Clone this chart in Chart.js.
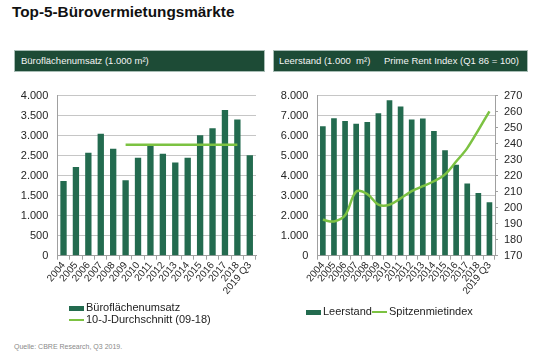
<!DOCTYPE html>
<html>
<head>
<meta charset="utf-8">
<script src="https://cdn.jsdelivr.net/npm/chart.js@4/dist/chart.umd.min.js"></script>
<style>
    body {
        margin: 0;
        width: 535px;
        height: 360px;
        background: #fff;
        font-family: "Liberation Sans", Arial, sans-serif;
        position: relative;
        overflow: hidden;
    }
    #title {
        position: absolute;
        left: 12px;
        top: 3px;
        font-size: 15.3px;
        font-weight: bold;
        color: #111;
    }
    .hdr {
        position: absolute;
        top: 50px;
        height: 22px;
        background: #1d4b36;
        border: 1px solid #a8bdb5;
        box-sizing: border-box;
        color: #f4f4f4;
        font-size: 9.5px;
        line-height: 20px;
    }
    .hdr span { position: absolute; top: 0; white-space: nowrap; }
    canvas { position: absolute; }
    .legend {
        position: absolute;
        font-size: 11px;
        color: #222;
        white-space: nowrap;
    }
    .legend div { position: absolute; height: 12px; line-height: 12px; }
    .sw-bar { display: inline-block; width: 15px; height: 5px; vertical-align: middle; margin-right: 2px; }
    .sw-line { display: inline-block; width: 15px; height: 2px; vertical-align: middle; margin-right: 2px; }
    #source {
        position: absolute;
        left: 14px;
        top: 343px;
        font-size: 7px;
        color: #8a8a8a;
    }
</style>
</head>
<body>
<div id="title">Top-5-Bürovermietungsmärkte</div>
<div class="hdr" style="left:14px;width:251px"><span style="left:6px">Büroflächenumsatz (1.000 m²)</span></div>
<div class="hdr" style="left:273px;width:255px"><span style="left:5px">Leerstand (1.000&nbsp; m²)</span><span style="left:110px">Prime Rent Index (Q1 86 = 100)</span></div>
<canvas id="leftChart" width="265" height="222" style="left:0;top:80px"></canvas>
<canvas id="rightChart" width="265" height="222" style="left:270px;top:80px"></canvas>
<div class="legend" id="leftLegend"></div>
<div class="legend" id="rightLegend"></div>
<div id="source">Quelle: CBRE Research, Q3 2019.</div>
<script>
const years = ["2004", "2005", "2006", "2007", "2008", "2009", "2010", "2011",
    "2012", "2013", "2014", "2015", "2016", "2017", "2018", "2019 Q3"];

// Büroflächenumsatz (1.000 m²)
const umsatz = [1865, 2215, 2570, 3045, 2670, 1888, 2450, 2752,
    2550, 2330, 2450, 3010, 3185, 3640, 3405, 2508];
// 10-J-Durchschnitt (09-18)
const durchschnitt = [null, null, null, null, null, 2770, 2770, 2770,
    2770, 2770, 2770, 2770, 2770, 2770, 2770, null];

// Leerstand (1.000 m²)
const leerstand = [6470, 6865, 6725, 6595, 6675, 7115, 7770, 7460,
    6810, 6855, 6225, 5275, 4545, 3605, 3135, 2665];
// Spitzenmietindex (Q1 86 = 100)
const spitzenmiete = [192.4, 191.4, 195.2, 210.0, 208.5, 201.9, 201.8, 205.8,
    210.3, 213.4, 216.5, 220.8, 228.8, 237.2, 248.5, 260.2];

const umsatzTicks = ["0", "500", "1.000", "1.500", "2.000", "2.500", "3.000", "3.500", "4.000"];
const leerstandTicks = ["0", "1.000", "2.000", "3.000", "4.000", "5.000", "6.000", "7.000", "8.000"];
const indexTicks = ["170", "180", "190", "200", "210", "220", "230", "240", "250", "260", "270"];

const barColor = "#236b4f";
const lineColor = "#7cc242";
const gridColor = "#c6c6c6";
const axisColor = "#a0a0a0";
const tickFont = { family: "'Liberation Sans', Arial, sans-serif", size: 11 };
const xFont = { family: "'Liberation Sans', Arial, sans-serif", size: 10 };

function xAxis() {
    return {
        offset: true,
        grid: { drawOnChartArea: false, drawTicks: true, tickLength: 4, color: axisColor, offset: true },
        border: { color: axisColor },
        ticks: { color: "#262626", font: xFont, minRotation: 50, maxRotation: 50, padding: 0, autoSkip: false },
        afterFit: (s) => { s.height = 46.3; },
    };
}

function yAxis(labels, min, max, step, width) {
    return {
        min: min,
        max: max,
        grid: { color: gridColor, drawTicks: false },
        border: { color: axisColor },
        ticks: {
            stepSize: step,
            autoSkip: false,
            color: "#262626",
            font: tickFont,
            padding: 9,
            callback: (v, i) => labels[i],
        },
        afterFit: (s) => { s.width = width; },
    };
}

const common = {
    responsive: false,
    animation: false,
    devicePixelRatio: 1,
    plugins: { legend: { display: false }, tooltip: { enabled: false } },
};

new Chart(document.getElementById("leftChart"), {
    data: {
        labels: years,
        datasets: [
            {
                type: "line",
                label: "10-J-Durchschnitt (09-18)",
                data: durchschnitt,
                borderColor: lineColor,
                borderWidth: 2.5,
                pointRadius: 0,
                spanGaps: false,
                order: 0,
            },
            {
                type: "bar",
                label: "Büroflächenumsatz",
                data: umsatz,
                backgroundColor: barColor,
                barPercentage: 0.51,
                categoryPercentage: 1,
                order: 1,
            },
        ],
    },
    options: {
        ...common,
        layout: { padding: { top: 12, right: 9, left: 0, bottom: 0 } },
        scales: {
            x: xAxis(),
            y: yAxis(umsatzTicks, 0, 4000, 500, 57.3),
        },
    },
});

const rightY2 = {
    position: "right",
    min: 170,
    max: 270,
    grid: { drawOnChartArea: false, drawTicks: true, tickLength: 3, color: axisColor },
    border: { color: axisColor },
    ticks: {
        stepSize: 10,
        autoSkip: false,
        color: "#262626",
        font: tickFont,
        padding: 6,
        callback: (v, i) => indexTicks[i],
    },
    afterFit: (s) => { s.width = 40; },
};

new Chart(document.getElementById("rightChart"), {
    data: {
        labels: years,
        datasets: [
            {
                type: "line",
                label: "Spitzenmietindex",
                data: spitzenmiete,
                yAxisID: "y2",
                borderColor: lineColor,
                borderWidth: 2.5,
                pointRadius: 0,
                tension: 0.35,
                order: 0,
            },
            {
                type: "bar",
                label: "Leerstand",
                data: leerstand,
                yAxisID: "y",
                backgroundColor: barColor,
                barPercentage: 0.51,
                categoryPercentage: 1,
                order: 1,
            },
        ],
    },
    options: {
        ...common,
        layout: { padding: { top: 12, right: 0, left: 0, bottom: 0 } },
        scales: {
            x: xAxis(),
            y: yAxis(leerstandTicks, 0, 8000, 1000, 47.3),
            y2: rightY2,
        },
    },
});

// --- Legends (HTML) ---
function legendItem(kind, color, text, x, y) {
    const d = document.createElement("div");
    d.style.left = x + "px";
    d.style.top = y + "px";
    const sw = document.createElement("span");
    sw.className = kind === "bar" ? "sw-bar" : "sw-line";
    sw.style.background = color;
    d.appendChild(sw);
    d.appendChild(document.createTextNode(text));
    return d;
}

const leftLegend = document.getElementById("leftLegend");
leftLegend.appendChild(legendItem("bar", barColor, "Büroflächenumsatz", 69, 301));
leftLegend.appendChild(legendItem("line", lineColor, "10-J-Durchschnitt (09-18)", 69, 313));

const rightLegend = document.getElementById("rightLegend");
rightLegend.appendChild(legendItem("bar", barColor, "Leerstand", 306, 305));
rightLegend.appendChild(legendItem("line", lineColor, "Spitzenmietindex", 372, 305));
</script>
</body>
</html>
